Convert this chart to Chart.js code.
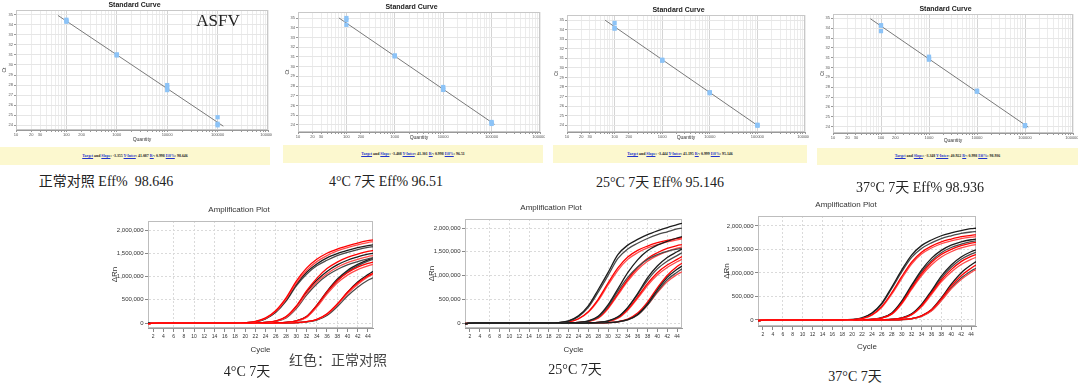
<!DOCTYPE html>
<html>
<head>
<meta charset="utf-8">
<script src="https://cdn.jsdelivr.net/npm/chart.js@4.4.1/dist/chart.umd.min.js"></script>
<style>
body { margin: 0; background: #fff; }
#page { position: relative; width: 1080px; height: 392px; overflow: hidden; background: #fff; }
canvas { position: absolute; }
.fit { position: absolute; background: #fcf8cf; font: bold 3.9px 'Liberation Serif', serif; color: #222; text-align: center; white-space: nowrap; }
.fit u { color: #2233cc; }
.cap { position: absolute; font: 14px 'Liberation Serif', 'Noto Sans CJK SC', serif; color: #222; white-space: nowrap; transform: translate(-50%, -50%); }
</style>
</head>
<body>
<div id="page">
  <canvas id="sc0" width="272" height="145" style="left:0;top:0"></canvas>
  <canvas id="sc1" width="262" height="145" style="left:283px;top:0"></canvas>
  <canvas id="sc2" width="257" height="145" style="left:552px;top:0"></canvas>
  <canvas id="sc3" width="260" height="147" style="left:818px;top:0"></canvas>
  <canvas id="amp0" width="270" height="156" style="left:105px;top:200px"></canvas>
  <canvas id="amp1" width="270" height="158" style="left:420px;top:198px"></canvas>
  <canvas id="amp2" width="264" height="158" style="left:716px;top:195px"></canvas>
  <div class="cap" style="left:218px;top:21px;font-size:17px">ASFV</div>
  <div class="cap" style="left:338px;top:359px;font-family:'Noto Sans CJK SC',sans-serif;color:#444">红色：正常对照</div>
</div>
<script>
// ---- standard curves ----
const conditions = ['正常对照', '4°C 7天', '25°C 7天', '37°C 7天'];
const slopes = ['-3.355', '-3.408', '-3.444', '-3.348'];
const intercepts = ['41.087', '41.301', '41.195', '40.922'];
const r2 = ['0.998', '0.998', '0.999', '0.998'];
const effs = ['98.646', '96.51', '95.146', '98.936'];

const qTickLabels = [10, 20, 30, 100, 200, 1000, 10000, 100000, 1000000];
const ctTicks = [24, 25, 26, 27, 28, 29, 30, 31, 32, 33, 34, 35];

const stdQuantity = [100, 100, 100, 1000, 1000, 1000, 10000, 10000, 10000, 100000, 100000, 100000];
const ctNormal = [34.5, 34.4, 34.3, 31.05, 31.0, 30.95, 28.0, 27.8, 27.5, 24.8, 24.15, 24.0];
const ct4C = [35.0, 34.8, 34.3, 31.15, 31.1, 31.05, 27.9, 27.75, 27.6, 24.3, 24.2, 24.1];
const ct25C = [34.7, 34.2, 34.1, 30.85, 30.8, 30.75, 27.45, 27.4, 27.35, 24.05, 24.0, 23.95];
const ct37C = [34.3, 34.25, 33.7, 31.1, 30.95, 30.8, 27.65, 27.6, 27.55, 24.15, 24.1, 24.05];

// fitted line end points (quantity, Ct)
const fitQ = [[68, 130000], [70, 115000], [63, 110000], [60, 117000]];
const fitCt = [[34.93, 23.91], [35.01, 24.06], [34.99, 23.84], [34.96, 23.95]];

// ---- amplification plots, ΔRn in thousands ----
const cycles = [1, 3, 18, 20, 22, 24, 26, 28, 30, 32, 34, 36, 38, 40, 42, 44, 45];
const cycleTicks = [2, 4, 6, 8, 10, 12, 14, 16, 18, 20, 22, 24, 26, 28, 30, 32, 34, 36, 38, 40, 42, 44];
const rnTicks = [0, 500000, 1000000, 1500000, 2000000];

const amp4Black = [
  [-10, 0, 0, 6, 28, 95, 240, 490, 830, 1090, 1270, 1400, 1490, 1560, 1620, 1665, 1680],
  [-10, 0, 0, 5, 25, 90, 230, 470, 800, 1050, 1230, 1350, 1450, 1520, 1580, 1625, 1640],
  [-10, 0, 0, 0, 4, 13, 40, 130, 350, 660, 920, 1110, 1250, 1350, 1420, 1480, 1500],
  [-10, 0, 0, 0, 3, 11, 35, 110, 310, 600, 840, 1020, 1150, 1250, 1320, 1380, 1400],
  [-10, 0, 0, 0, 0, 0, 5, 15, 45, 140, 380, 680, 940, 1130, 1260, 1360, 1400],
  [-10, 0, 0, 0, 0, 0, 4, 13, 40, 130, 360, 650, 910, 1100, 1230, 1330, 1370],
  [-10, 0, 0, 0, 0, 0, 0, 2, 8, 25, 70, 180, 390, 660, 880, 1040, 1110],
  [-10, 0, 0, 0, 0, 0, 0, 2, 7, 22, 62, 160, 350, 580, 770, 920, 970]
];
const amp4Red = [
  [-15, 0, 0, 8, 35, 110, 270, 540, 900, 1180, 1370, 1500, 1590, 1660, 1720, 1770, 1790],
  [-12, 0, 0, 7, 30, 100, 250, 510, 860, 1130, 1320, 1450, 1550, 1620, 1680, 1730, 1750],
  [-15, 0, 0, 0, 5, 15, 45, 140, 370, 690, 960, 1170, 1310, 1410, 1480, 1540, 1560],
  [-12, 0, 0, 0, 4, 12, 38, 120, 330, 630, 880, 1060, 1200, 1300, 1370, 1430, 1450],
  [-15, 0, 0, 0, 0, 0, 5, 15, 45, 140, 380, 670, 910, 1080, 1200, 1280, 1310],
  [-12, 0, 0, 0, 0, 0, 4, 12, 38, 120, 340, 620, 860, 1030, 1150, 1230, 1260],
  [-15, 0, 0, 0, 0, 0, 0, 3, 10, 30, 80, 200, 410, 660, 860, 1010, 1070],
  [-12, 0, 0, 0, 0, 0, 0, 2, 8, 26, 72, 185, 390, 630, 830, 990, 1050]
];
const amp25Black = [
  [-15, 0, 0, 10, 45, 150, 360, 700, 1060, 1440, 1640, 1760, 1860, 1940, 2010, 2070, 2100],
  [-12, 0, 0, 8, 40, 135, 330, 650, 1000, 1360, 1560, 1680, 1780, 1860, 1920, 1980, 2000],
  [-15, 0, 0, 0, 5, 15, 45, 140, 380, 720, 1060, 1330, 1520, 1640, 1720, 1790, 1820],
  [-10, 0, 0, 0, 4, 13, 40, 125, 350, 670, 960, 1180, 1340, 1440, 1510, 1555, 1570],
  [-15, 0, 0, 0, 0, 0, 5, 15, 45, 130, 330, 620, 950, 1200, 1380, 1500, 1560],
  [-10, 0, 0, 0, 0, 0, 5, 14, 42, 125, 320, 600, 900, 1140, 1300, 1420, 1480],
  [-15, 0, 0, 0, 0, 0, 0, 2, 8, 25, 70, 180, 400, 700, 960, 1130, 1200],
  [-10, 0, 0, 0, 0, 0, 0, 2, 7, 22, 65, 170, 380, 660, 910, 1070, 1140]
];
const amp25Red = [
  [-10, 0, 0, 5, 25, 90, 240, 500, 840, 1160, 1390, 1530, 1620, 1690, 1740, 1780, 1800],
  [-12, 0, 0, 5, 22, 85, 225, 470, 800, 1110, 1340, 1480, 1580, 1650, 1710, 1750, 1770],
  [-12, 0, 0, 0, 3, 11, 35, 110, 320, 620, 920, 1170, 1360, 1480, 1570, 1630, 1650],
  [-10, 0, 0, 0, 3, 10, 32, 100, 300, 590, 880, 1120, 1300, 1420, 1510, 1575, 1600],
  [-12, 0, 0, 0, 0, 0, 4, 12, 36, 110, 290, 550, 830, 1060, 1220, 1340, 1400],
  [-10, 0, 0, 0, 0, 0, 4, 11, 33, 100, 270, 520, 790, 1010, 1170, 1290, 1340],
  [-12, 0, 0, 0, 0, 0, 0, 3, 10, 30, 85, 210, 440, 740, 1000, 1190, 1260],
  [-10, 0, 0, 0, 0, 0, 0, 2, 8, 25, 70, 175, 380, 640, 870, 1020, 1080]
];
const amp37Black = [
  [-15, 0, 0, 10, 45, 150, 360, 700, 1060, 1380, 1580, 1700, 1790, 1850, 1900, 1940, 1950],
  [-12, 0, 0, 8, 40, 140, 340, 670, 1020, 1330, 1520, 1640, 1730, 1790, 1840, 1870, 1880],
  [-15, 0, 0, 0, 5, 16, 50, 150, 400, 740, 1060, 1310, 1480, 1590, 1660, 1705, 1720],
  [-10, 0, 0, 0, 4, 14, 45, 140, 380, 710, 1020, 1260, 1430, 1540, 1610, 1665, 1680],
  [-15, 0, 0, 0, 0, 0, 5, 15, 45, 130, 330, 620, 930, 1170, 1340, 1450, 1490],
  [-10, 0, 0, 0, 0, 0, 4, 13, 40, 120, 310, 590, 890, 1120, 1290, 1400, 1440],
  [-15, 0, 0, 0, 0, 0, 0, 3, 10, 30, 90, 220, 470, 760, 1000, 1170, 1240],
  [-10, 0, 0, 0, 0, 0, 0, 2, 8, 26, 78, 195, 420, 680, 890, 1040, 1100]
];
const amp37Red = [
  [-10, 0, 0, 6, 30, 110, 290, 580, 920, 1230, 1440, 1570, 1660, 1720, 1770, 1800, 1810],
  [-12, 0, 0, 5, 27, 100, 270, 550, 880, 1190, 1400, 1530, 1620, 1680, 1730, 1760, 1770],
  [-12, 0, 0, 0, 4, 13, 42, 130, 360, 680, 980, 1220, 1390, 1500, 1580, 1635, 1650],
  [-10, 0, 0, 0, 3, 12, 38, 120, 340, 650, 940, 1170, 1340, 1450, 1530, 1585, 1600],
  [-12, 0, 0, 0, 0, 0, 4, 12, 38, 115, 300, 570, 850, 1070, 1240, 1350, 1390],
  [-10, 0, 0, 0, 0, 0, 3, 11, 34, 105, 280, 540, 810, 1020, 1180, 1290, 1330],
  [-12, 0, 0, 0, 0, 0, 0, 3, 10, 30, 88, 215, 450, 720, 940, 1100, 1170],
  [-10, 0, 0, 0, 0, 0, 0, 2, 8, 26, 76, 190, 410, 660, 860, 1010, 1070]
];

const sans = "'Liberation Sans', Arial, sans-serif";

// draws the light box round the plot area
const frame = {
  id: 'frame',
  beforeDatasetsDraw(chart, args, opts) {
    const a = chart.chartArea, c = chart.ctx;
    c.save();
    c.strokeStyle = opts.color;
    c.lineWidth = 1;
    c.strokeRect(Math.round(a.left) + 0.5, Math.round(a.top) + 0.5, Math.round(a.right - a.left) - 1, Math.round(a.bottom - a.top) - 1);
    c.restore();
  }
};

const page = document.getElementById('page');
function addDiv(cls, html, style) {
  let d = document.createElement('div');
  d.className = cls;
  d.innerHTML = html;
  d.style.cssText = style;
  page.appendChild(d);
}

// layout of the four standard curve panels
const stdLayout = [
  {yw: 16, padR: 3, tTop: 1, xh: 15, qPad: 2, yMin: 23.53, yMax: 35.47, box: [0, 147, 270, 18], cap: [106, 180]},
  {yw: 15, padR: 5, tTop: 3, xh: 13, qPad: 4, yMin: 23.27, yMax: 35.62, box: [283, 145, 260, 18], cap: [386, 180]},
  {yw: 15, padR: 4, tTop: 6, xh: 13, qPad: 4, yMin: 23.29, yMax: 35.53, box: [553, 145, 254, 18], cap: [660, 181]},
  {yw: 15, padR: 5, tTop: 5, xh: 14, qPad: 3, yMin: 23.35, yMax: 35.44, box: [817, 148, 261, 17], cap: [920, 186]}
];
const stdCt = [ctNormal, ct4C, ct25C, ct37C];

stdLayout.forEach((lay, i) => {
  new Chart(document.getElementById('sc' + i), {
    type: 'scatter',
    data: {
      datasets: [
        {
          data: stdQuantity.map((q, j) => ({x: q, y: stdCt[i][j]})),
          pointStyle: 'rect', pointRadius: 3,
          backgroundColor: '#8cc3f7', borderColor: '#8cc3f7', borderWidth: 0,
          order: 0
        },
        {
          data: fitQ[i].map((q, j) => ({x: q, y: fitCt[i][j]})),
          showLine: true, borderColor: '#7a7a7a', borderWidth: 1, pointRadius: 0,
          order: 1
        }
      ]
    },
    options: {
      responsive: false, animation: false, devicePixelRatio: 1,
      layout: {padding: {right: lay.padR}},
      plugins: {
        legend: {display: false},
        tooltip: {enabled: false},
        title: {display: true, text: 'Standard Curve', color: '#222', font: {family: sans, size: 7, weight: 'bold'}, padding: {top: lay.tTop, bottom: 0.6}},
        frame: {color: '#c8c8c8'}
      },
      scales: {
        x: {
          type: 'logarithmic', min: 10, max: 1000000,
          afterBuildTicks: s => {
            let t = [];
            for (let e = 1; e < 6; e++) for (let m = 1; m < 10; m++) t.push({value: m * Math.pow(10, e)});
            t.push({value: 1000000});
            s.ticks = t;
          },
          afterFit: s => { s.height = lay.xh; s.paddingLeft = 0; s.paddingRight = 0; },
          ticks: {autoSkip: false, maxRotation: 0, padding: 0.5, color: '#555', font: {family: sans, size: 4},
            callback: v => qTickLabels.includes(v) ? String(v) : ''},
          grid: {color: c => [10, 100, 1000, 10000, 100000].includes(c.tick && c.tick.value) ? '#d4d4d4' : '#ececec', tickLength: 2, tickColor: '#999'},
          border: {color: '#999'},
          title: {display: true, text: 'Quantity', color: '#333', font: {family: sans, size: 5}, padding: {top: 0, bottom: lay.qPad}}
        },
        y: {
          min: lay.yMin, max: lay.yMax,
          afterBuildTicks: s => { s.ticks = ctTicks.map(v => ({value: v})); },
          afterFit: s => { s.width = lay.yw; s.paddingTop = 0; s.paddingBottom = 0; },
          ticks: {padding: 1, color: '#555', font: {family: sans, size: 4}},
          grid: {color: '#e6e6e6', tickLength: 2, tickColor: '#999'},
          border: {color: '#999'},
          title: {display: true, text: 'Ct', color: '#333', font: {family: sans, size: 5}, padding: {top: 1.5, bottom: 0}}
        }
      }
    },
    plugins: [frame]
  });

  let b = lay.box;
  addDiv('fit',
    '<u>Target</u> and <u>Slope</u>: ' + slopes[i] + ' <u>Y-Inter</u>: ' + intercepts[i] +
    ' <u>R²</u>: ' + r2[i] + ' <u>Eff%</u>: ' + effs[i],
    'left:' + b[0] + 'px;top:' + b[1] + 'px;width:' + b[2] + 'px;height:' + b[3] + 'px;line-height:' + b[3] + 'px');
  addDiv('cap', conditions[i] + (i === 0 ? ' Eff%&nbsp; ' : ' Eff% ') + effs[i],
    'left:' + lay.cap[0] + 'px;top:' + lay.cap[1] + 'px');
});

// layout of the three amplification plots
const ampLayout = [
  {id: 'amp0', black: amp4Black, red: amp4Red, redOnTop: true, yw: 43, padR: 2, xh: 28, rnPad: 5, yMin: -107500, yMax: 2194000, cap: [247, 370]},
  {id: 'amp1', black: amp25Black, red: amp25Red, redOnTop: false, yw: 45, padR: 8, xh: 28, rnPad: 7, yMin: -105000, yMax: 2190000, cap: [575, 368]},
  {id: 'amp2', black: amp37Black, red: amp37Red, redOnTop: true, yw: 42, padR: 4, xh: 27, rnPad: 6, yMin: -128000, yMax: 2210000, cap: [855, 375]}
];

ampLayout.forEach((lay, k) => {
  let ds = [];
  const add = (list, cols) => list.forEach((vals, i) => ds.push({
    data: cycles.map((c, j) => ({x: c, y: vals[j] * 1000})),
    borderColor: cols[i % 2], borderWidth: 1.3, pointRadius: 0,
    cubicInterpolationMode: 'monotone'
  }));
  // first dataset is painted last, i.e. on top
  if (lay.redOnTop) { add(lay.red, ['#ff0000', '#ff4a4a']); add(lay.black, ['#1c1c1c', '#4a4a4a']); }
  else { add(lay.black, ['#1c1c1c', '#4a4a4a']); add(lay.red, ['#ff0000', '#ff4a4a']); }

  new Chart(document.getElementById(lay.id), {
    type: 'line',
    data: {datasets: ds},
    options: {
      responsive: false, animation: false, devicePixelRatio: 1,
      layout: {padding: {right: lay.padR}},
      plugins: {
        legend: {display: false},
        tooltip: {enabled: false},
        title: {display: true, text: 'Amplification Plot', color: '#333', font: {family: sans, size: 8, weight: 'normal'}, padding: {top: 5.2, bottom: 6.2}},
        frame: {color: '#bdbdbd'}
      },
      scales: {
        x: {
          type: 'linear', min: 1, max: 45,
          afterBuildTicks: s => { s.ticks = cycleTicks.map(v => ({value: v})); },
          afterFit: s => { s.height = lay.xh; s.paddingLeft = 0; s.paddingRight = 0; },
          ticks: {autoSkip: false, maxRotation: 0, padding: 2, color: '#333', font: {family: sans, size: 5}},
          grid: {color: c => (c.tick && c.tick.value % 4 === 2 && c.tick.value > 2) ? '#dadada' : 'rgba(0,0,0,0)', tickColor: '#888', tickLength: 4},
          border: {dash: [2, 2], color: '#999'},
          title: {display: true, text: 'Cycle', color: '#333', font: {family: sans, size: 8}, padding: {top: 0, bottom: 1.2}}
        },
        y: {
          min: lay.yMin, max: lay.yMax,
          afterBuildTicks: s => { s.ticks = rnTicks.map(v => ({value: v})); },
          afterFit: s => { s.width = lay.yw; s.paddingTop = 0; s.paddingBottom = 0; },
          ticks: {padding: 1.5, color: '#333', font: {family: sans, size: 6}, callback: v => v.toLocaleString('en-US')},
          grid: {color: '#dadada', tickColor: '#888', tickLength: 3},
          border: {dash: [2, 2], color: '#999'},
          title: {display: true, text: 'ΔRn', color: '#333', font: {family: sans, size: 8}, padding: {top: lay.rnPad, bottom: 0}}
        }
      }
    },
    plugins: [frame]
  });

  addDiv('cap', conditions[k + 1], 'left:' + lay.cap[0] + 'px;top:' + lay.cap[1] + 'px');
});
</script>
</body>
</html>
